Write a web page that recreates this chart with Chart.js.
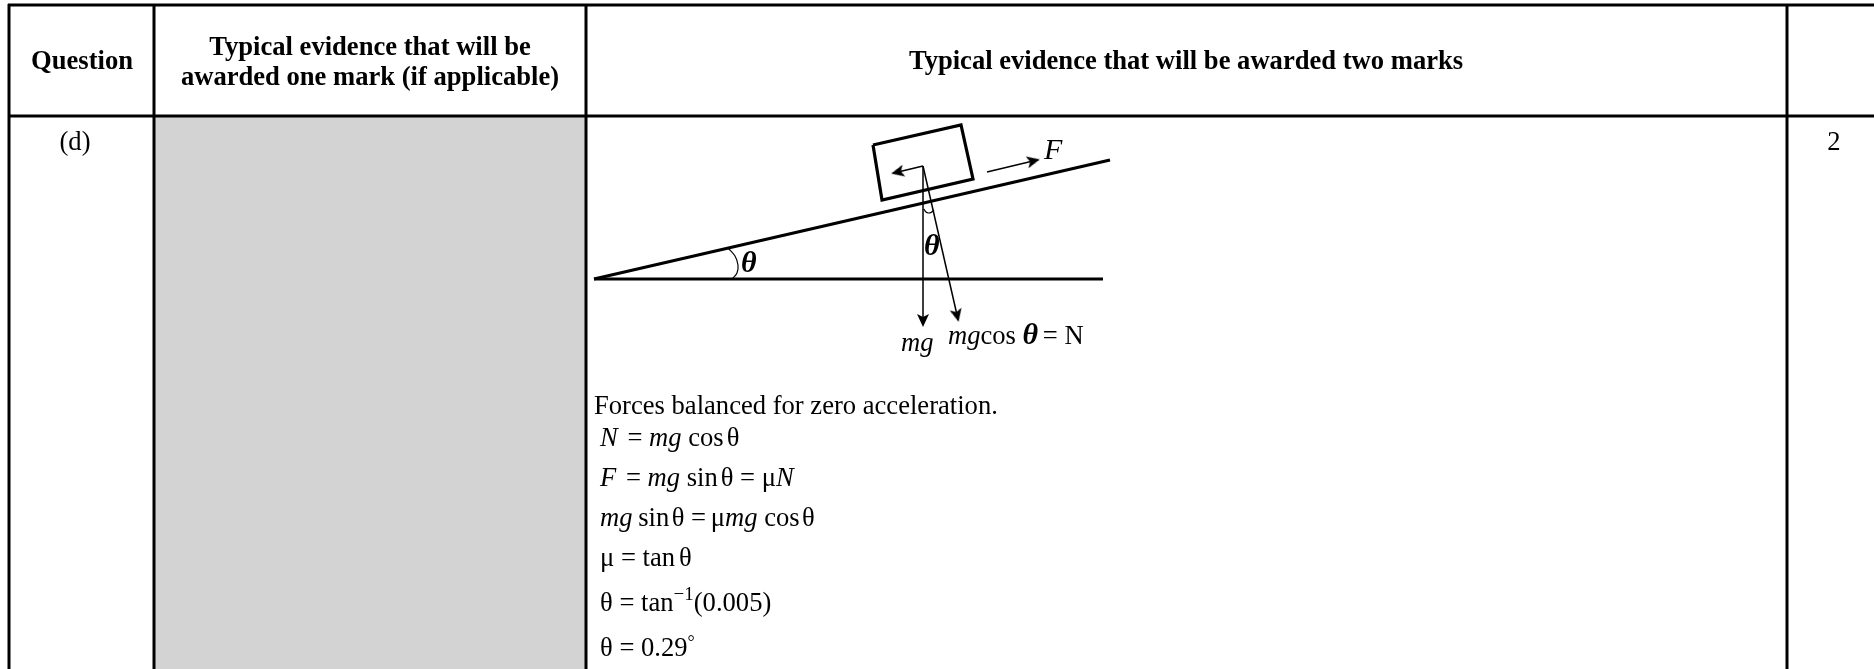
<!DOCTYPE html>
<html><head><meta charset="utf-8">
<style>html,body{margin:0;padding:0;background:#fff;overflow:hidden}canvas{display:block;filter:blur(0.45px)}</style>
<script src="https://cdn.jsdelivr.net/npm/chart.js@4"></script>
</head><body><canvas id="c" width="1874" height="669"></canvas>
<script>
const gridX = [9, 154, 586, 1787];
const gridY = [5, 116];
const greyCell = [[155,117],[585,117],[585,669],[155,669]];
const incline = [[594,279],[1110,160]];
const ground = [[594,279],[1103,279]];
const block = [[873,145],[961,125],[973,179],[882,200],[873,145]];
const arrows = [
  {pts:[[923,166],[923,320]], rot:180},
  {pts:[[923,166],[957,315]], rot:167},
  {pts:[[923,166],[898,172]], rot:257},
  {pts:[[987,172],[1033,161]], rot:77}
];
const arcs = [
  [[728,248],[735,256],[738,265],[737,273],[732,279]],
  [[924,209],[926,212],[928.5,213],[931,212.5],[934,210]]
];
const R='Liberation Serif';
const px=s=>s+'px "'+R+'"';
const bold='bold '+px(26.6), reg=px(26.6), ital='italic '+px(26.6), bi='italic bold '+px(30), bigI='italic '+px(30);
// run: [text, font, baseline shift, font override, x nudge]
const textLines = [
  {x:82,y:69,a:'c',runs:[['Question',bold]]},
  {x:370,y:55,a:'c',runs:[['Typical evidence that will be',bold]]},
  {x:370,y:85,a:'c',runs:[['awarded one mark (if applicable)',bold]]},
  {x:1186,y:69,a:'c',runs:[['Typical evidence that will be awarded two marks',bold]]},
  {x:75,y:150,a:'c',runs:[['(d)',reg]]},
  {x:1834,y:150,a:'c',runs:[['2',reg]]},
  {x:1044,y:159,runs:[['F',bigI]]},
  {x:741,y:272,runs:[['θ',bi]]},
  {x:924,y:255,runs:[['θ',bi]]},
  {x:901,y:351,runs:[['mg',ital]]},
  {x:948,y:344,runs:[['mg',ital],['cos ',reg],['θ',bi],[' = N',reg,0,null,-2]]},
  {x:594,y:414,runs:[['Forces balanced for zero acceleration.',reg]]},
  {x:600,y:446,runs:[['N',ital],[' = ',reg,0,null,3],['mg',ital],[' cos',reg],['θ',reg,0,null,3]]},
  {x:600,y:486,runs:[['F',ital],[' = ',reg,0,null,3],['mg',ital],[' sin',reg],['θ',reg,0,null,3],[' = μ',reg],['N',ital]]},
  {x:600,y:526,runs:[['mg',ital],[' sin',reg,0,null,-1],['θ',reg,0,null,2.5],[' = ',reg],['μ',reg,0,null,-2],['mg',ital],[' cos',reg],['θ',reg,0,null,2.5]]},
  {x:600,y:566,runs:[['μ = tan',reg],['θ',reg,0,null,4]]},
  {x:600,y:611,runs:[['θ = tan',reg],['−1',reg,-11,px(19)],['(0.005)',reg]]},
  {x:600,y:656,runs:[['θ = 0.29',reg],['°',reg,-8,px(18)]]}
];

const toXY = p => ({x:p[0],y:p[1]});
const head = document.createElement('canvas');
head.width = 16; head.height = 16;
(function(){const g=head.getContext('2d');g.fillStyle='#000';g.beginPath();
  g.moveTo(8,1);g.lineTo(14,14);g.lineTo(8,11);g.lineTo(2,14);g.closePath();g.fill();})();

const line = (pts,w,extra) => Object.assign({data:pts.map(toXY),borderColor:'#000',borderWidth:w,pointRadius:0,fill:false,clip:false,tension:0},extra||{});
const datasets = [];
arrows.forEach(a=>datasets.push(line(a.pts,1.5,{
  pointStyle:ctx=>ctx.dataIndex===1?head:false,
  pointRadius:ctx=>ctx.dataIndex===1?8:0,
  rotation:a.rot})));
arcs.forEach(a=>datasets.push(line(a,1.2,{tension:0.4})));
datasets.push(line(block,3.2));
datasets.push(line(incline,3.2));
datasets.push(line(ground,3.2));
gridX.forEach(x=>datasets.push(line([[x,gridY[0]-1],[x,669]],3)));
gridY.forEach(y=>datasets.push(line([[gridX[0]-1,y],[1874,y]],3)));
datasets.push({data:greyCell.map(toXY),borderWidth:0,borderColor:'transparent',backgroundColor:'#d3d3d3',fill:'shape',pointRadius:0,clip:false});

const textPlugin = {id:'text',afterDatasetsDraw(chart){
  const g=chart.ctx,sx=chart.scales.x,sy=chart.scales.y;
  g.save();g.fillStyle='#000';g.textBaseline='alphabetic';g.textAlign='left';
  textLines.forEach(l=>{
    let w=0;
    l.runs.forEach(r=>{g.font=r[3]||r[1];w+=g.measureText(r[0]).width;});
    let x=sx.getPixelForValue(l.x);if(l.a==='c')x-=w/2;
    const y=sy.getPixelForValue(l.y);
    l.runs.forEach(r=>{g.font=r[3]||r[1];x+=r[4]||0;g.fillText(r[0],x,y+(r[2]||0));x+=g.measureText(r[0]).width;});
  });
  g.restore();
}};
new Chart(document.getElementById('c'),{
  type:'line',
  data:{datasets},
  options:{responsive:false,animation:false,parsing:false,normalized:true,
    layout:{padding:0,autoPadding:false},
    plugins:{legend:{display:false},tooltip:{enabled:false},title:{display:false}},
    scales:{
      x:{type:'linear',min:0,max:1874,display:false},
      y:{type:'linear',min:0,max:669,reverse:true,display:false}
    }},
  plugins:[textPlugin]
});
</script></body></html>
